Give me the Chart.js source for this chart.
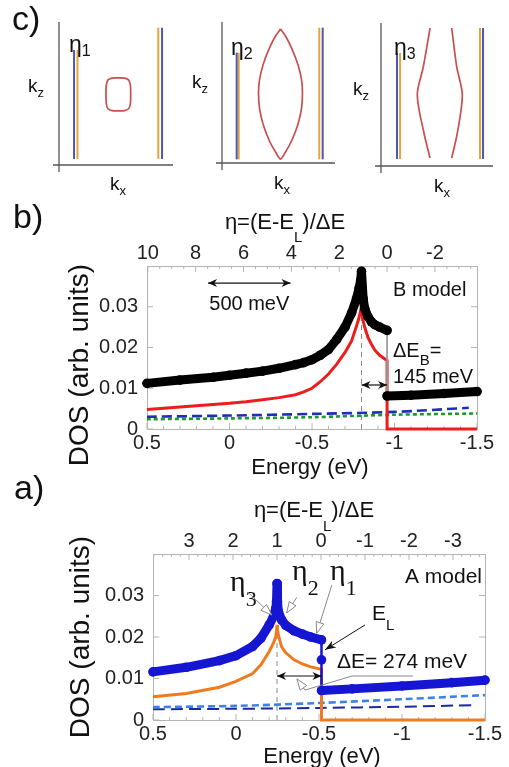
<!DOCTYPE html>
<html>
<head>
<meta charset="utf-8">
<script src="https://cdn.jsdelivr.net/npm/chart.js@4.4.1/dist/chart.umd.min.js"></script>
<style>
  body { margin: 0; background: #fff; }
  #fig { position: relative; width: 509px; height: 767px; background: #fff; overflow: hidden; }
  #fig canvas { position: absolute; left: 0; top: 0; }
</style>
</head>
<body>
<div id="fig">
  <canvas id="k1" width="509" height="767"></canvas>
  <canvas id="k2" width="509" height="767"></canvas>
  <canvas id="k3" width="509" height="767"></canvas>
  <canvas id="dosB" width="509" height="767"></canvas>
  <canvas id="dosA" width="509" height="767"></canvas>
</div>
<script>
// ---------- panel c: constant-energy cuts in (kx, kz), arbitrary units 0..10
// sheets are listed blue, orange, orange, blue (left pair, right pair)
const c1SheetX = [1.32, 1.62, 8.71, 9.04];
const c1SheetTop = [8.04, 8.04, 9.60, 9.60];
const c1SheetBottom = [0.42, 0.42, 0.42, 0.42];
const c1PocketX = [5.20, 5.75, 6.10, 6.26, 6.29, 6.26, 6.10, 5.75, 5.20, 4.65, 4.30, 4.15, 4.12, 4.15, 4.30, 4.65, 5.20];
const c1PocketY = [6.10, 6.08, 5.95, 5.60, 4.94, 4.28, 3.93, 3.80, 3.78, 3.80, 3.93, 4.28, 4.94, 5.60, 5.95, 6.08, 6.10];

const c2SheetX = [1.30, 1.48, 8.61, 8.91];
const c2SheetTop = [7.82, 7.82, 9.60, 9.60];
const c2SheetBottom = [0.26, 0.26, 0.26, 0.26];
const c2PocketX = [5.18, 5.62, 6.15, 6.73, 7.04, 7.12, 7.04, 6.73, 6.15, 5.62, 5.18, 4.74, 4.20, 3.63, 3.32, 3.23, 3.32, 3.63, 4.20, 4.74, 5.18];
const c2PocketY = [9.50, 9.01, 8.16, 6.95, 5.89, 4.96, 3.90, 2.77, 1.56, 0.78, 0.28, 0.78, 1.56, 2.77, 3.90, 4.96, 5.89, 6.95, 8.16, 9.01, 9.50];

const c3SheetX = [1.43, 1.70, 8.84, 9.11];
const c3SheetTop = [7.90, 7.90, 9.65, 9.65];
const c3SheetBottom = [0.49, 0.49, 0.49, 0.49];
const c3LeftX = [4.38, 3.78, 3.24, 3.84, 4.38];
const c3RightX = [6.31, 6.76, 7.26, 6.81, 6.31];
const c3OpenY = [9.65, 6.94, 4.97, 2.29, 0.56];

// ---------- panel b: B model, DOS vs energy (eV)
const bEnergy = [0.5, 0.3, 0.1, 0, -0.1, -0.2, -0.3, -0.4, -0.45, -0.5, -0.55, -0.6, -0.65, -0.7, -0.74, -0.77, -0.785, -0.795, -0.8, -0.81, -0.82, -0.84, -0.86, -0.88, -0.91, -0.955, -0.955, -1.1, -1.3, -1.5];
const bTotal = [0.0112, 0.0120, 0.0127, 0.0132, 0.0137, 0.0142, 0.0149, 0.0158, 0.0163, 0.0170, 0.0181, 0.0195, 0.0220, 0.0250, 0.0285, 0.0320, 0.0345, 0.0365, 0.0387, 0.0320, 0.0295, 0.0275, 0.0263, 0.0256, 0.0250, 0.0242, 0.0081, 0.0083, 0.0087, 0.0092];
const bRed = [0.0048, 0.0054, 0.0060, 0.0063, 0.0067, 0.0072, 0.0077, 0.0084, 0.0091, 0.0100, 0.0116, 0.0135, 0.0159, 0.0188, 0.0216, 0.0253, 0.0273, 0.0290, 0.0306, 0.0265, 0.0249, 0.0224, 0.0208, 0.0194, 0.0181, 0.0168, 0, 0, 0, 0];
const bBlueEnergy = [0.5, 0, -0.5, -1.0, -1.45];
const bBlueDash = [0.0030, 0.0033, 0.0037, 0.0042, 0.0052];
const bGreenEnergy = [0.5, 0, -0.5, -1.0, -1.5];
const bGreenDot = [0.0024, 0.0026, 0.0029, 0.0035, 0.0038];
const bEL = -0.955, bDeltaE = 0.145;   // eta axis: (E - E_L) / dE

// ---------- panel a: A model
const aEnergy = [0.5, 0.3, 0.1, 0, -0.1, -0.15, -0.2, -0.225, -0.24, -0.244, -0.247, -0.25, -0.255, -0.275, -0.3, -0.35, -0.4, -0.45, -0.515, -0.515, -0.515, -0.7, -1.0, -1.3, -1.5];
const aTotal = [0.0116, 0.0127, 0.0143, 0.0155, 0.0177, 0.0197, 0.0229, 0.0249, 0.0269, 0.0285, 0.0329, 0.0285, 0.0262, 0.0241, 0.0228, 0.0215, 0.0207, 0.0200, 0.0193, 0.0145, 0.0071, 0.0075, 0.0082, 0.0090, 0.0096];
const aOrange = [0.0056, 0.0064, 0.0079, 0.0093, 0.0112, 0.0133, 0.0165, 0.0185, 0.0201, 0.0215, 0.0229, 0.0218, 0.0205, 0.0176, 0.0162, 0.0145, 0.0135, 0.0128, 0.0122, 0, 0, 0, 0, 0, 0];
const aLightEnergy = [0.5, 0, -0.5, -1.0, -1.5];
const aLightDash = [0.0031, 0.0034, 0.0041, 0.0050, 0.0060];
const aNavyEnergy = [0.5, 0, -0.5, -1.0, -1.45];
const aNavyDash = [0.0026, 0.0027, 0.0029, 0.0032, 0.0036];
const aEL = -0.512, aDeltaE = 0.265;

const eTicks = [-1.5, -1, -0.5, 0, 0.5];
const dosTicks = [0, 0.01, 0.02, 0.03];

const W = 509, H = 767;
const SANS = "'Liberation Sans', Arial, sans-serif";
const SERIF = "'Liberation Serif', 'Times New Roman', serif";
const SHEET_COLORS = ['#4a58b4', '#e7a43c', '#e7a43c', '#4a58b4'];
Chart.defaults.font.family = SANS;
Chart.defaults.color = '#222';

const pts = (xs, ys) => xs.map((x, i) => ({x: x, y: ys[i]}));
const vertical = c => c.p0.parsed.x === c.p1.parsed.x;

function line(ctx, x1, y1, x2, y2) {
  ctx.beginPath(); ctx.moveTo(x1, y1); ctx.lineTo(x2, y2); ctx.stroke();
}

// text made of runs: [text, size, dy, family]
function runs(ctx, parts, x, y, align) {
  const f = p => p[1] + 'px ' + (p[3] || SANS);
  let w = 0;
  parts.forEach(p => { ctx.font = f(p); w += ctx.measureText(p[0]).width; });
  let cx = align === 'center' ? x - w / 2 : x;
  ctx.textAlign = 'left';
  ctx.textBaseline = 'alphabetic';
  parts.forEach(p => {
    ctx.font = f(p);
    ctx.fillText(p[0], cx, y + (p[2] || 0));
    cx += ctx.measureText(p[0]).width;
  });
}

function head(ctx, x1, y1, x2, y2, len, half, open) {
  const a = Math.atan2(y2 - y1, x2 - x1);
  const bx = x2 - len * Math.cos(a), by = y2 - len * Math.sin(a);
  const px = -Math.sin(a) * half, py = Math.cos(a) * half;
  ctx.beginPath();
  ctx.moveTo(x2, y2);
  ctx.lineTo(bx + px, by + py);
  if (!open) ctx.lineTo(x2 - len * 0.7 * Math.cos(a), y2 - len * 0.7 * Math.sin(a));
  ctx.lineTo(bx - px, by - py);
  ctx.closePath();
  if (open) { ctx.fillStyle = '#fff'; ctx.fill(); ctx.stroke(); }
  else ctx.fill();
}

function doubleArrow(ctx, x1, x2, y) {
  ctx.save();
  ctx.strokeStyle = '#111'; ctx.fillStyle = '#111'; ctx.lineWidth = 1.2;
  line(ctx, x1, y, x2, y);
  head(ctx, x2, y, x1, y, 9, 4, false);
  head(ctx, x1, y, x2, y, 9, 4, false);
  ctx.restore();
}

function callout(ctx, path, color, open) {
  ctx.save();
  ctx.strokeStyle = color; ctx.fillStyle = color; ctx.lineWidth = 1;
  ctx.beginPath();
  path.forEach((p, i) => i ? ctx.lineTo(p[0], p[1]) : ctx.moveTo(p[0], p[1]));
  ctx.stroke();
  const n = path.length;
  head(ctx, path[n - 2][0], path[n - 2][1], path[n - 1][0], path[n - 1][1], 11, 4, open);
  ctx.restore();
}

// ---------- panel c charts
function kChart(id, area, sheetX, sheetTop, sheetBottom, curves, lab) {
  const datasets = sheetX.map((x, i) => ({
    data: [{x: x, y: sheetBottom[i]}, {x: x, y: sheetTop[i]}],
    borderColor: SHEET_COLORS[i], borderWidth: 2, pointRadius: 0
  }));
  curves.forEach(c => datasets.push({
    data: pts(c[0], c[1]), borderColor: '#c8504e', borderWidth: 1.7, pointRadius: 0, tension: 0.3
  }));
  new Chart(document.getElementById(id), {
    type: 'line',
    data: {datasets: datasets},
    options: {
      responsive: false, animation: false, devicePixelRatio: 1,
      layout: {padding: {left: area[0], top: area[1], right: W - area[2], bottom: H - area[3]}},
      plugins: {legend: {display: false}, tooltip: {enabled: false}},
      scales: {
        x: {type: 'linear', min: 0, max: 10, display: false},
        y: {type: 'linear', min: 0, max: 10, display: false}
      }
    },
    plugins: [{
      id: 'kdecor',
      afterDraw(chart) {
        const ctx = chart.ctx, a = chart.chartArea;
        ctx.save();
        ctx.strokeStyle = '#555'; ctx.lineWidth = 1.3;
        line(ctx, a.left, a.top, a.left, a.bottom + 7);
        line(ctx, a.left - 6, a.bottom, a.right, a.bottom);
        ctx.fillStyle = '#111';
        runs(ctx, [['η', 23], [lab.n, 16, 4]], lab.eta[0], lab.eta[1]);
        runs(ctx, [['k', 19], ['z', 13, 5]], lab.kz[0], lab.kz[1]);
        runs(ctx, [['k', 19], ['x', 13, 5]], lab.kx[0], lab.kx[1]);
        if (lab.panel) runs(ctx, [['c)', 34]], 12, 30);
        ctx.restore();
      }
    }]
  });
}

kChart('k1', [59, 22, 173, 165], c1SheetX, c1SheetTop, c1SheetBottom, [[c1PocketX, c1PocketY]],
  {n: '1', eta: [69, 52], kz: [28, 92], kx: [110, 190], panel: true});
kChart('k2', [222, 22, 335, 163], c2SheetX, c2SheetTop, c2SheetBottom, [[c2PocketX, c2PocketY]],
  {n: '2', eta: [231, 55], kz: [192, 88], kx: [274, 189]});
kChart('k3', [381, 23, 493, 166], c3SheetX, c3SheetTop, c3SheetBottom, [[c3LeftX, c3OpenY], [c3RightX, c3OpenY]],
  {n: '3', eta: [394, 55], kz: [353, 95], kx: [434, 192]});

// ---------- panels a and b
function tickRun(scale, minor, major, cb) {
  const lo = Math.min(scale.min, scale.max), hi = Math.max(scale.min, scale.max);
  for (let k = Math.ceil(lo / minor - 1e-9); k * minor <= hi + 1e-9; k++) {
    const v = k * minor;
    const isMajor = Math.abs(v / major - Math.round(v / major)) < 1e-6;
    cb(scale.getPixelForValue(v), isMajor ? 6 : 3);
  }
}

function frame(chart, etaMinor, etaMajor) {
  const ctx = chart.ctx, a = chart.chartArea, s = chart.scales;
  ctx.save();
  ctx.strokeStyle = '#b4b4b4'; ctx.lineWidth = 1;
  ctx.strokeRect(a.left + 0.5, a.top + 0.5, a.right - a.left, a.bottom - a.top);
  tickRun(s.x, 0.1, 0.5, (p, l) => line(ctx, p, a.bottom, p, a.bottom - l));
  tickRun(s.eta, etaMinor, etaMajor, (p, l) => line(ctx, p, a.top, p, a.top + l));
  dosTicks.forEach(v => {
    const p = s.y.getPixelForValue(v);
    line(ctx, a.left, p, a.left + 6, p);
    line(ctx, a.right, p, a.right - 6, p);
  });
  ctx.restore();
}

function dosChart(id, cfg) {
  const ca = cfg.area;
  new Chart(document.getElementById(id), {
    type: 'line',
    data: {datasets: cfg.datasets},
    options: {
      responsive: false, animation: false, devicePixelRatio: 1,
      layout: {padding: {left: ca[0] - 60, right: W - ca[2], top: ca[1] - 30, bottom: H - ca[3] - 30}},
      plugins: {legend: {display: false}, tooltip: {enabled: false}},
      scales: {
        x: {
          type: 'linear', position: 'bottom', reverse: true, min: -1.5, max: 0.5,
          grid: {display: false, drawTicks: false}, border: {display: false},
          afterBuildTicks: s => { s.ticks = eTicks.map(v => ({value: v})); },
          ticks: {padding: 2, font: {size: 20}, maxRotation: 0, autoSkip: false, color: '#222', callback: v => String(v)},
          afterFit: s => { s.height = 30; }
        },
        eta: {
          type: 'linear', position: 'top', reverse: true, min: cfg.etaMin, max: cfg.etaMax,
          grid: {display: false, drawTicks: false}, border: {display: false},
          ticks: {stepSize: cfg.etaStep, includeBounds: false, padding: 1, font: {size: 20}, maxRotation: 0, autoSkip: false, color: '#222', callback: v => String(Math.round(v))},
          afterFit: s => { s.height = 30; }
        },
        y: {
          type: 'linear', min: 0, max: 0.04,
          grid: {display: false, drawTicks: false}, border: {display: false},
          afterBuildTicks: s => { s.ticks = dosTicks.map(v => ({value: v})); },
          ticks: {padding: 9, font: {size: 20}, color: '#222', callback: v => v === 0 ? '0' : v.toFixed(2)},
          afterFit: s => { s.width = 60; }
        }
      }
    },
    plugins: [{
      id: 'dosdecor',
      beforeDatasetsDraw(chart) {
        frame(chart, cfg.etaMinor, cfg.etaStep);
        const ctx = chart.ctx, s = chart.scales;
        ctx.save();
        ctx.strokeStyle = '#8a8a8a'; ctx.lineWidth = 1; ctx.setLineDash([5, 4]);
        const px = s.x.getPixelForValue(cfg.peakE);
        line(ctx, px, s.y.getPixelForValue(0), px, s.y.getPixelForValue(cfg.dashTop));
        ctx.restore();
      },
      afterDatasetsDraw(chart) {
        const ctx = chart.ctx, s = chart.scales;
        const X = v => s.x.getPixelForValue(v), Y = v => s.y.getPixelForValue(v);
        ctx.save();
        ctx.fillStyle = '#111';
        cfg.notes(ctx, X, Y, chart.chartArea);
        ctx.restore();
      }
    }]
  });
}

function argmax(xs, ys) {
  let k = 0;
  ys.forEach((v, i) => { if (v > ys[k]) k = i; });
  return xs[k];
}

// panel b
dosChart('dosB', {
  area: [147, 266, 477, 429],
  etaMin: (-1.5 - bEL) / bDeltaE, etaMax: (0.5 - bEL) / bDeltaE, etaStep: 2, etaMinor: 0.5,
  peakE: argmax(bEnergy, bTotal), dashTop: 0.04,
  datasets: [
    {data: pts(bEnergy, bTotal), borderColor: '#000', borderWidth: 9, pointRadius: 4.8,
     pointBackgroundColor: '#000', pointBorderWidth: 0, borderJoinStyle: 'round', borderCapStyle: 'round', clip: false,
     segment: {borderColor: c => vertical(c) ? '#9a9a9a' : undefined, borderWidth: c => vertical(c) ? 1 : undefined}},
    {data: pts(bEnergy, bRed), borderColor: '#ee1c1c', borderWidth: 3, pointRadius: 0, clip: false},
    {data: pts(bBlueEnergy, bBlueDash), borderColor: '#1f2fb5', borderWidth: 2.6, borderDash: [10, 5], pointRadius: 0, tension: 0.3},
    {data: pts(bGreenEnergy, bGreenDot), borderColor: '#1e9a2c', borderWidth: 2.6, borderDash: [4, 3], pointRadius: 0, tension: 0.3}
  ],
  notes(ctx, X, Y) {
    doubleArrow(ctx, X(0.13), X(-0.37), Y(0.0358));
    runs(ctx, [['500 meV', 20]], X(-0.12), Y(0.0292), 'center');
    runs(ctx, [['B model', 20]], X(-0.991), Y(0.0326));
    runs(ctx, [['ΔE', 20], ['B', 15, 8], ['=', 20]], X(-0.991), Y(0.0177));
    runs(ctx, [['145 meV', 20]], X(-0.991), Y(0.0113));
    doubleArrow(ctx, X(-0.80), X(bEL), Y(0.0108));
    // page labels
    runs(ctx, [['b)', 34]], 13, 228);
    runs(ctx, [['η=(E-E', 22], ['L', 15, 13], [')/ΔE', 22]], 285, 229, 'center');
    runs(ctx, [['Energy (eV)', 22]], 310, 474, 'center');
    ctx.save(); ctx.translate(78, 365); ctx.rotate(-Math.PI / 2);
    runs(ctx, [['DOS (arb. units)', 28]], 0, 10, 'center');
    ctx.restore();
  }
});

// panel a
dosChart('dosA', {
  area: [153, 554, 485, 720],
  etaMin: (-1.5 - aEL) / aDeltaE, etaMax: (0.5 - aEL) / aDeltaE, etaStep: 1, etaMinor: 0.2,
  peakE: argmax(aEnergy, aTotal), dashTop: Math.max(...aOrange),
  datasets: [
    {data: pts(aEnergy, aTotal), borderColor: '#1515d2', borderWidth: 9, pointRadius: 4.8,
     pointBackgroundColor: '#1515d2', pointBorderWidth: 0, borderJoinStyle: 'round', borderCapStyle: 'round', clip: false,
     segment: {borderWidth: c => vertical(c) ? 2.5 : undefined}},
    {data: pts(aEnergy, aOrange), borderColor: '#f07a1e', borderWidth: 3, pointRadius: 0, clip: false},
    {data: pts(aLightEnergy, aLightDash), borderColor: '#3d82e6', borderWidth: 2.6, borderDash: [7, 4], pointRadius: 0, tension: 0.3},
    {data: pts(aNavyEnergy, aNavyDash), borderColor: '#1c2a9c', borderWidth: 2, borderDash: [12, 6], pointRadius: 0, tension: 0.3}
  ],
  notes(ctx, X, Y) {
    runs(ctx, [['A model', 21]], X(-1.018), Y(0.033));
    runs(ctx, [['η', 30, 0, SERIF], ['3', 22, 15, SERIF]], X(0.036), Y(0.0311));
    runs(ctx, [['η', 30, 0, SERIF], ['2', 22, 15, SERIF]], X(-0.337), Y(0.0337));
    runs(ctx, [['η', 30, 0, SERIF], ['1', 22, 15, SERIF]], X(-0.566), Y(0.0337));
    runs(ctx, [['E', 21], ['L', 15, 10]], X(-0.819), Y(0.0241));
    runs(ctx, [['ΔE= 274 meV', 21]], X(-0.608), Y(0.01253));
    callout(ctx, [[X(-0.072), Y(0.0308)], [X(-0.215), Y(0.0253)]], '#888', true);
    callout(ctx, [[X(-0.367), Y(0.0296)], [X(-0.305), Y(0.0258)]], '#888', true);
    callout(ctx, [[X(-0.577), Y(0.0325)], [X(-0.486), Y(0.0209)]], '#888', true);
    callout(ctx, [[X(-0.777), Y(0.0229)], [X(-0.536), Y(0.0169)]], '#111', false);
    callout(ctx, [[X(-1.066), Y(0.0106)], [X(-0.699), Y(0.0106)], [X(-0.416), Y(0.0072)], [X(-0.367), Y(0.0099)]], '#888', true);
    doubleArrow(ctx, X(argmax(aEnergy, aTotal)), X(-0.515), Y(0.0106));
    // page labels
    runs(ctx, [['a)', 34]], 14, 499);
    runs(ctx, [['η=(E-E', 22], ['L', 15, 14], [')/ΔE', 22]], 314, 517, 'center');
    runs(ctx, [['Energy (eV)', 22]], 322, 763, 'center');
    ctx.save(); ctx.translate(79, 637); ctx.rotate(-Math.PI / 2);
    runs(ctx, [['DOS (arb. units)', 28]], 0, 10, 'center');
    ctx.restore();
  }
});
</script>
</body>
</html>
